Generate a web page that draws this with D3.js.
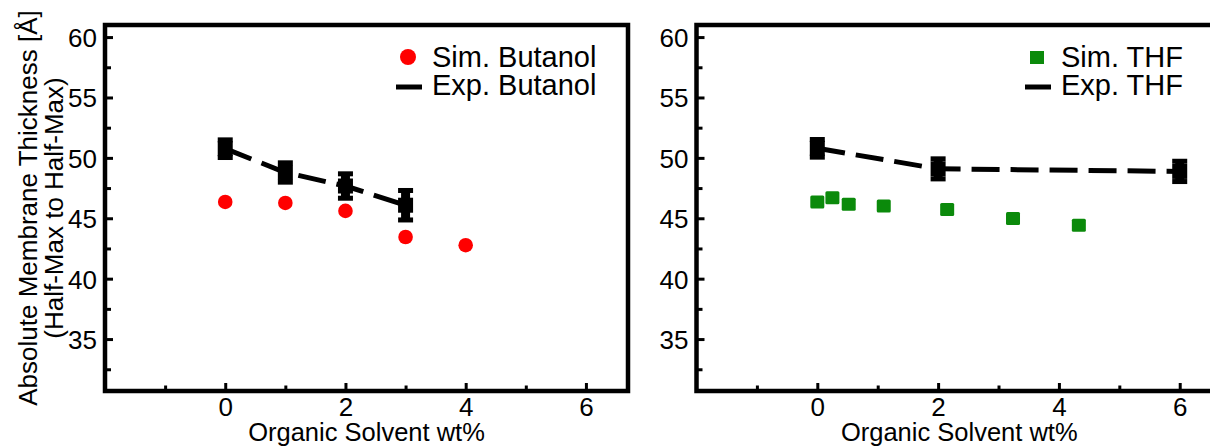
<!DOCTYPE html>
<html>
<head>
<meta charset="utf-8">
<script src="https://cdn.jsdelivr.net/npm/d3@7"></script>
<style>
  body { margin: 0; background: #fff; }
  svg text { font-family: "Liberation Sans", Arial, Helvetica, sans-serif; fill: #000; }
</style>
</head>
<body>
<svg id="chart" width="1210" height="446"></svg>
<script>
// data
const simButanolX = [0, 1, 2, 3, 4];
const simButanol = [46.35, 46.27, 45.61, 43.45, 42.77];
const expButanolX = [0, 1, 2, 3];
const expButanol = [50.76, 48.79, 47.67, 46.08];
const expButanolErr = [0.73, 0.80, 1.01, 1.22];

const simTHFX = [0, 0.25, 0.52, 1.1, 2.15, 3.24, 4.33];
const simTHF = [46.35, 46.69, 46.16, 46.02, 45.72, 44.98, 44.42];
const expTHFX = [0, 2, 6];
const expTHF = [50.79, 49.09, 48.88];
const expTHFErr = [0.73, 0.83, 0.84];

const yTicks = [35, 40, 45, 50, 55, 60];
const yMinor = [32.5, 37.5, 42.5, 47.5, 52.5, 57.5];
const xTicks = [0, 2, 4, 6];
const xMinor = [-1, 1, 3, 5];

const svg = d3.select("#chart");
const plotTop = 25, plotBottom = 391;

const y = d3.scaleLinear().domain([30.7, 61]).range([plotBottom, plotTop]);

const panels = [
  {
    left: 105, right: 628,
    sim: simButanolX.map((x, i) => ({ x, v: simButanol[i] })),
    exp: expButanolX.map((x, i) => ({ x, v: expButanol[i], e: expButanolErr[i] })),
    color: "#f00", shape: "circle",
    simLabel: "Sim. Butanol", expLabel: "Exp. Butanol",
    legX: 408
  },
  {
    left: 696.5, right: 1222,
    sim: simTHFX.map((x, i) => ({ x, v: simTHF[i] })),
    exp: expTHFX.map((x, i) => ({ x, v: expTHF[i], e: expTHFErr[i] })),
    color: "#0b8a0b", shape: "square",
    simLabel: "Sim. THF", expLabel: "Exp. THF",
    legX: 1037
  }
];

panels.forEach(p => {
  const x = d3.scaleLinear().domain([-2, 6.7]).range([p.left, p.right]);
  const g = svg.append("g");

  // axes (ticks point inward)
  const yAx = g.append("g").attr("transform", `translate(${p.left},0)`)
    .call(d3.axisLeft(y).tickValues(yTicks).tickSize(-8).tickPadding(8));
  g.append("g").attr("transform", `translate(${p.left},0)`)
    .call(d3.axisLeft(y).tickValues(yMinor).tickSize(-6).tickFormat(""));
  g.append("g").attr("transform", `translate(0,${plotBottom})`)
    .call(d3.axisBottom(x).tickValues(xTicks).tickSize(-8).tickPadding(7));
  g.append("g").attr("transform", `translate(0,${plotBottom})`)
    .call(d3.axisBottom(x).tickValues(xMinor).tickSize(-5.5).tickFormat(""));

  g.selectAll(".domain").remove();
  g.selectAll(".tick line").attr("stroke", "#000").attr("stroke-width", 3);
  g.selectAll(".tick text").style("font-size", "26px").attr("fill", "#000");
  yAx.selectAll(".tick text").attr("dy", "0.36em");

  // frame
  g.append("rect")
    .attr("x", p.left).attr("y", plotTop)
    .attr("width", p.right - p.left).attr("height", plotBottom - plotTop)
    .attr("fill", "none").attr("stroke", "#000").attr("stroke-width", 4.5);

  // x title
  g.append("text")
    .attr("x", (p.left + p.right) / 2).attr("y", 441)
    .attr("text-anchor", "middle").style("font-size", "25.5px")
    .text("Organic Solvent wt%");

  // experimental dashed line
  const line = d3.line().x(d => x(d.x)).y(d => y(d.v));
  g.append("path")
    .attr("d", line(p.exp))
    .attr("fill", "none").attr("stroke", "#000")
    .attr("stroke-width", 5).attr("stroke-dasharray", "28,11");

  // error bars + square markers
  const eb = g.selectAll(null).data(p.exp).enter().append("g");
  eb.append("line")
    .attr("x1", d => x(d.x)).attr("x2", d => x(d.x))
    .attr("y1", d => y(d.v - d.e)).attr("y2", d => y(d.v + d.e))
    .attr("stroke", "#000").attr("stroke-width", 9);
  [-1, 1].forEach(s => {
    eb.append("rect")
      .attr("x", d => x(d.x) - 7.5).attr("width", 15)
      .attr("y", d => y(d.v + s * d.e) - 2.5).attr("height", 5)
      .attr("fill", "#000");
  });
  eb.append("rect")
    .attr("x", d => x(d.x) - 7.5).attr("y", d => y(d.v) - 7.5)
    .attr("width", 15).attr("height", 15).attr("fill", "#000");

  // simulation markers
  if (p.shape === "circle") {
    g.selectAll(null).data(p.sim).enter().append("circle")
      .attr("cx", d => x(d.x)).attr("cy", d => y(d.v))
      .attr("r", 7.3).attr("fill", p.color);
  } else {
    g.selectAll(null).data(p.sim).enter().append("rect")
      .attr("x", d => x(d.x) - 7).attr("y", d => y(d.v) - 6.5)
      .attr("width", 14).attr("height", 13).attr("rx", 1.5)
      .attr("fill", p.color);
  }

  // legend
  const lg = g.append("g");
  if (p.shape === "circle") {
    lg.append("circle").attr("cx", p.legX).attr("cy", 57).attr("r", 8).attr("fill", p.color);
  } else {
    lg.append("rect").attr("x", p.legX - 7).attr("y", 51).attr("width", 14).attr("height", 13).attr("fill", p.color);
  }
  lg.append("line")
    .attr("x1", p.legX - 12).attr("x2", p.legX + 14)
    .attr("y1", 87).attr("y2", 87)
    .attr("stroke", "#000").attr("stroke-width", 5);
  lg.append("text").attr("x", p.legX + 24).attr("y", 67).style("font-size", "29px").text(p.simLabel);
  lg.append("text").attr("x", p.legX + 24).attr("y", 94.5).style("font-size", "29px").text(p.expLabel);
});

// y title (two lines)
const yt = svg.append("text")
  .attr("transform", "translate(37,208) rotate(-90)")
  .attr("text-anchor", "middle").style("font-size", "26px");
yt.append("tspan").attr("x", 0).attr("y", 0).text("Absolute Membrane Thickness [Å]");
yt.append("tspan").attr("x", 0).attr("y", 26).text("(Half-Max to Half-Max)");
</script>
</body>
</html>
